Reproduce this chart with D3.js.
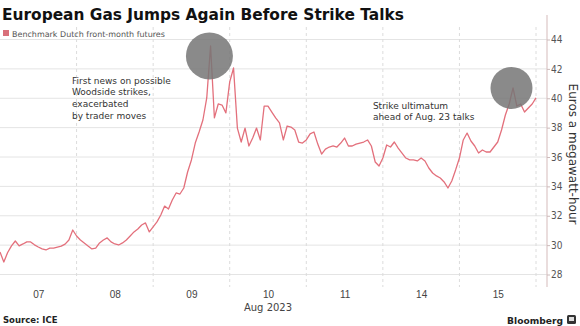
<!DOCTYPE html>
<html><head><meta charset="utf-8">
<script src="https://cdn.jsdelivr.net/npm/d3@7"></script>
<style>
html,body{margin:0;padding:0;background:#fff;}
svg{display:block;font-family:"DejaVu Sans",Verdana,sans-serif;}
</style></head>
<body><svg id="c" width="580" height="326"></svg>
<script>
// ---- data ----
const dayLabels = ["07","08","09","10","11","14","15"];
const yTicks = [28,30,32,34,36,38,40,42,44];
const stepDays = 0.05; // sampling step of the series (days)
const prices = [
29.53,28.85,29.50,29.95,30.28,29.95,30.08,30.22,30.22,30.02,
29.87,29.74,29.67,29.80,29.80,29.87,29.93,30.07,30.35,31.03,
30.62,30.35,30.15,29.94,29.74,29.80,30.15,30.35,30.49,30.22,
30.08,30.01,30.15,30.35,30.62,30.90,31.10,31.37,31.51,30.90,
31.24,31.58,32.05,32.66,32.46,33.07,33.55,33.48,33.89,34.98,
35.80,36.95,37.70,38.52,40.02,43.56,38.66,39.61,39.54,39.00,
41.11,42.06,37.97,37.02,37.97,36.75,37.29,37.97,37.16,39.47,
39.47,39.06,38.66,38.32,37.16,38.11,38.04,37.84,37.02,36.95,
37.16,37.57,37.70,36.88,36.20,36.54,36.68,36.75,36.68,36.95,
37.29,36.75,36.75,36.88,36.95,37.02,37.16,36.75,35.66,35.39,
35.93,36.82,36.68,37.02,36.61,36.27,35.93,35.80,35.80,35.73,
35.93,35.73,35.25,34.91,34.71,34.57,34.30,33.89,34.37,35.12,
35.93,37.16,37.63,37.09,36.75,36.27,36.48,36.34,36.34,36.68,
37.02,37.84,38.86,39.61,40.70,39.47,39.61,39.06,39.34,39.61,
40.02];
const highlights = [{t:2.735, v:42.88, r:23.5},{t:6.68, v:40.70, r:21}];
const notes = [
  {t:0.94, v:41.0, lines:["First news on possible","Woodside strikes,","exacerbated","by trader moves"]},
  {t:4.87, v:39.3, lines:["Strike ultimatum","ahead of Aug. 23 talks"]}
];

const svg = d3.select("#c");
const x = d3.scaleLinear().domain([0,7]).range([0,536]);
const y = d3.scaleLinear().domain([28,44]).range([274.5,39.5]);
const axisX = 547, plotTop = 27, plotBottom = 287;

function fitWidth(sel, w){
  const len = sel.node().getComputedTextLength();
  const fs = parseFloat(sel.style("font-size"));
  sel.style("font-size", (fs*w/len).toFixed(2)+"px");
}

// horizontal grid
svg.append("g").selectAll("line").data(yTicks).join("line")
  .attr("x1",0).attr("x2",axisX).attr("y1",d=>y(d)).attr("y2",d=>y(d))
  .attr("stroke","#e4e4e4").attr("stroke-width",1);
// vertical dashed grid at day boundaries
svg.append("g").selectAll("line").data(d3.range(1,8)).join("line")
  .attr("x1",d=>x(d)).attr("x2",d=>x(d)).attr("y1",plotTop).attr("y2",plotBottom)
  .attr("stroke","#dcdcdc").attr("stroke-width",1).attr("stroke-dasharray","3,3");

// series
const line = d3.line().x((d,i)=>x(i*stepDays)).y(d=>y(d));
svg.append("path").datum(prices).attr("d",line)
  .attr("fill","none").attr("stroke","#e3707c").attr("stroke-width",1.3)
  .attr("stroke-linejoin","round");

// highlight circles
svg.append("g").selectAll("circle").data(highlights).join("circle")
  .attr("cx",d=>x(d.t)).attr("cy",d=>y(d.v)).attr("r",d=>d.r)
  .attr("fill","#767676").attr("fill-opacity",0.85);

// y axis on right
svg.append("line").attr("x1",axisX).attr("x2",axisX).attr("y1",plotTop-12).attr("y2",plotBottom)
  .attr("stroke","#dcc6c6").attr("stroke-width",1.2);
const ya = svg.append("g").attr("transform",`translate(${axisX},0)`)
  .call(d3.axisRight(y).tickValues(yTicks).tickSize(3).tickPadding(1));
ya.select(".domain").remove();
ya.selectAll(".tick line").attr("stroke","#cbb");
ya.selectAll(".tick text").attr("fill","#555").style("font-size","10px")
  .style("font-family","DejaVu Sans Condensed, DejaVu Sans, sans-serif");

svg.append("text").attr("transform",`translate(569,154) rotate(90)`)
  .attr("text-anchor","middle").attr("fill","#333").style("font-size","12px")
  .text("Euros a megawatt-hour");

// x axis labels
const xa = svg.append("g").attr("transform",`translate(0,${plotBottom})`)
  .call(d3.axisBottom(x).tickValues(d3.range(7).map(d=>d+0.5)).tickFormat((d,i)=>dayLabels[i]).tickSize(0).tickPadding(4));
xa.select(".domain").remove();
xa.selectAll(".tick text").attr("fill","#444").style("font-size","10px");
svg.append("text").attr("x",x(3.5)).attr("y",311).attr("text-anchor","middle")
  .attr("fill","#444").style("font-size","10px").text("Aug 2023");

// notes
notes.forEach(n=>{
  const t = svg.append("text").attr("x",x(n.t)).attr("y",y(n.v)).attr("fill","#333")
    .style("font-size","9px");
  n.lines.forEach((l,i)=>t.append("tspan").attr("x",x(n.t)).attr("dy",i?11.7:0).text(l));
});

// title & legend
const title = svg.append("text").attr("x",2).attr("y",20).attr("fill","#111")
  .style("font-size","16px").style("font-weight","bold")
  .text("European Gas Jumps Again Before Strike Talks");
fitWidth(title, 402);
svg.append("rect").attr("x",3).attr("y",30).attr("width",6).attr("height",6).attr("fill","#d9707a");
const leg = svg.append("text").attr("x",12).attr("y",36.5).attr("fill","#555").style("font-size","8.5px")
  .text("Benchmark Dutch front-month futures");
fitWidth(leg, 153);

// footer
svg.append("text").attr("x",3).attr("y",323).attr("fill","#222").style("font-size","8.5px")
  .style("font-weight","bold").text("Source: ICE");
const bb = svg.append("text").attr("x",563).attr("y",324).attr("text-anchor","end").attr("fill","#222")
  .style("font-size","11px").style("font-weight","bold").text("Bloomberg");
fitWidth(bb, 56);
svg.append("rect").attr("x",567).attr("y",315).attr("width",9).attr("height",9).attr("rx",1.5).attr("fill","#333");
svg.append("rect").attr("x",569).attr("y",317).attr("width",5).attr("height",4).attr("fill","#ddd");
</script></body></html>
